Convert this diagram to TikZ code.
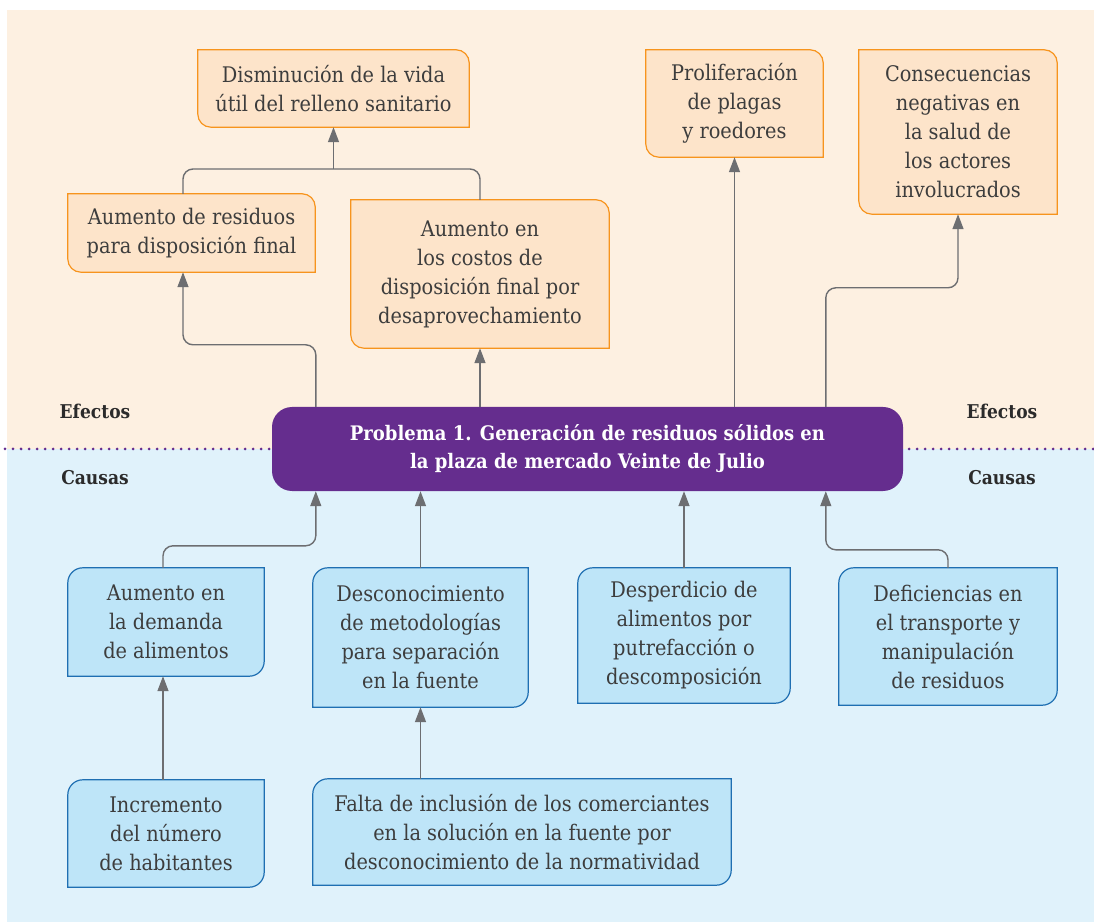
\documentclass[tikz,border=0pt]{standalone}
\usepackage{fontspec}
\setmainfont{DejaVu Serif Condensed}
\usetikzlibrary{arrows.meta,calc}
\definecolor{cream}{HTML}{FDF0E1}
\definecolor{sky}{HTML}{E0F2FB}
\definecolor{peach}{HTML}{FDE4CA}
\definecolor{orangeline}{HTML}{F7941D}
\definecolor{lightblue}{HTML}{BEE5F8}
\definecolor{blueline}{HTML}{1F6FB2}
\definecolor{purp}{HTML}{652D8E}
\definecolor{ink}{HTML}{3D3D3D}
\definecolor{labelink}{HTML}{2B2B2B}
\definecolor{wire}{HTML}{6D6E71}
\pgfdeclarelayer{back}
\pgfdeclarelayer{shapes}
\pgfsetlayers{back,shapes,main}
\begin{document}
\begin{tikzpicture}[x=1pt,y=1pt,
  txt/.style={font=\fontsize{21.5}{29}\selectfont, text=ink, align=center, inner sep=0pt, shape=rectangle},
  effectbox/.style={txt},
  causebox/.style={txt},
  eline/.style={draw=orangeline, fill=peach, line width=1.2pt},
  cline/.style={draw=blueline, fill=lightblue, line width=1.2pt},
  wireline/.style={draw=wire, line width=1.4pt, rounded corners=10pt},
  arr/.style={wireline, -{Triangle[length=15pt,width=11pt]}},
  sidelabel/.style={font=\bfseries\fontsize{19}{22}\selectfont, text=labelink, inner sep=0pt},
  problembox/.style={fill=purp, rounded corners=20pt, text=white, align=center,
    font=\bfseries\fontsize{20}{28}\selectfont, inner sep=0pt}
]
\useasboundingbox (0,0) rectangle (1094,922);

% backgrounds and dotted divider
\begin{pgfonlayer}{back}
  \fill[cream] (7,473) rectangle (1094,912);
  \fill[sky] (7,0) rectangle (1094,473);
  \draw[purp, line width=3pt, line cap=round, dash pattern=on 0pt off 8pt] (5,473) -- (1094,473);
\end{pgfonlayer}

% effects
\node[effectbox, minimum width=271pt, minimum height=77pt] (d1) at (333.5,833.5)
  {Disminución de la vida\\útil del relleno sanitario};
\node[effectbox, minimum width=247pt, minimum height=78pt] (d2) at (191.5,689)
  {Aumento de residuos\\para disposición final};
\node[effectbox, minimum width=258pt, minimum height=148pt] (d3) at (480,648)
  {Aumento en\\los costos de\\disposición final por\\desaprovechamiento};
\node[effectbox, minimum width=177pt, minimum height=107pt] (d4) at (734.5,818.5)
  {Proliferación\\de plagas\\y roedores};
\node[effectbox, minimum width=198pt, minimum height=164pt] (d5) at (958,790)
  {Consecuencias\\negativas en\\la salud de\\los actores\\involucrados};

% central problem
\node[problembox, minimum width=631pt, minimum height=84pt] (p) at (587.5,473)
  {Problema 1. Generación de residuos sólidos en\\la plaza de mercado Veinte de Julio};

% causes
\node[causebox, minimum width=196pt, minimum height=108pt] (c1) at (166,300)
  {Aumento en\\la demanda\\de alimentos};
\node[causebox, minimum width=215pt, minimum height=139pt] (c2) at (420.5,284.5)
  {Desconocimiento\\de metodologías\\para separación\\en la fuente};
\node[causebox, minimum width=212pt, minimum height=135pt] (c3) at (684,286.5)
  {Desperdicio de\\alimentos por\\putrefacción o\\descomposición};
\node[causebox, minimum width=218pt, minimum height=137pt] (c4) at (948,285.5)
  {Deficiencias en\\el transporte y\\manipulación\\de residuos};
\node[causebox, minimum width=196pt, minimum height=107pt] (c5) at (166,88.5)
  {Incremento\\del número\\de habitantes};
\node[causebox, minimum width=418pt, minimum height=106pt] (c6) at (522,90)
  {Falta de inclusión de los comerciantes\\en la solución en la fuente por\\desconocimiento de la normatividad};

% box outlines: effects round top-right and bottom-left, causes round top-left and bottom-right
\begin{pgfonlayer}{shapes}
  \foreach \n in {d1,d2,d3,d4,d5}
    \draw[eline] (\n.north west) -- ([xshift=-13pt]\n.north east)
      arc[start angle=90,end angle=0,radius=13pt] -- (\n.south east)
      -- ([xshift=13pt]\n.south west)
      arc[start angle=270,end angle=180,radius=13pt] -- cycle;
  \foreach \n in {c1,c2,c3,c4,c5,c6}
    \draw[cline] ([yshift=-15pt]\n.north west)
      arc[start angle=180,end angle=90,radius=15pt] -- (\n.north east)
      -- ([yshift=15pt]\n.south east)
      arc[start angle=0,end angle=-90,radius=15pt] -- (\n.south west) -- cycle;
\end{pgfonlayer}

% side labels
\node[sidelabel] (efl) at (95,511) {Efectos};
\node[sidelabel] (efr) at (1002,511) {Efectos};
\node[sidelabel] (cal) at (95,444) {Causas};
\node[sidelabel] (car) at (1002,444) {Causas};

% effect connectors
\coordinate (join) at (333.5,753);
\draw[arr] ([xshift=44pt]p.north west) -- ++(0,62) -| ([xshift=-8.5pt]d2.south);
\draw[wireline] ([xshift=-8.5pt]d2.north) |- (join) -| (d3.north);
\draw[arr] (join) -- (d1.south);
\draw[arr] (p.north -| d3.south) -- (d3.south);
\draw[arr] (p.north -| d4.south) -- (d4.south);
\draw[arr] ([xshift=554pt]p.north west) -- ++(0,119) -| (d5.south);

% cause connectors
\draw[arr] ([xshift=-3pt]c1.north) -- ++(0,22) -| ([xshift=44pt]p.south west);
\draw[arr] (c2.north) -- (c2.north |- p.south);
\draw[arr] (c3.north) -- (c3.north |- p.south);
\draw[arr] (c4.north) -- ++(0,18) -| ([xshift=554pt]p.south west);
\draw[arr] ([xshift=-3pt]c5.north) -- ([xshift=-3pt]c1.south);
\draw[arr] (c6.north -| c2.south) -- (c2.south);
\end{tikzpicture}
\end{document}
